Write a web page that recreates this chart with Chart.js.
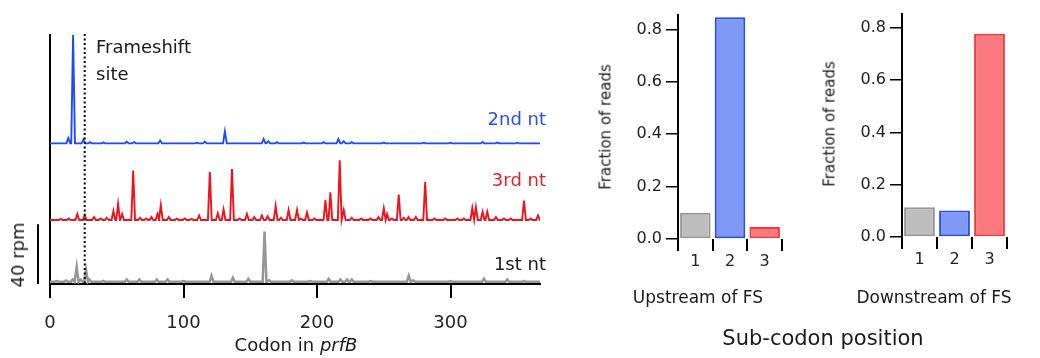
<!DOCTYPE html>
<html>
<head>
<meta charset="utf-8">
<script src="https://cdn.jsdelivr.net/npm/chart.js@4/dist/chart.umd.min.js"></script>
<style>
  html, body { margin:0; padding:0; background:#fff; }
  body { width:1040px; height:358px; position:relative; overflow:hidden; font-family:"DejaVu Sans", sans-serif; color:#1a1a1a; }
  canvas { position:absolute; top:0; }
  .t { position:absolute; white-space:nowrap; line-height:1; }
  .c { transform:translateX(-50%); }
  .rot { transform:translate(-50%,-50%) rotate(-90deg); }
</style>
</head>
<body>
<canvas id="trace" width="560" height="358" style="left:0"></canvas>
<canvas id="up" width="240" height="358" style="left:560px"></canvas>
<canvas id="down" width="240" height="358" style="left:800px"></canvas>

<div class="t" style="left:96px; top:37.8px; font-size:18px;">Frameshift</div>
<div class="t" style="left:96px; top:64.8px; font-size:18px;">site</div>
<div class="t" style="right:494px; top:109.8px; font-size:18px; color:rgb(40,80,230);">2nd nt</div>
<div class="t" style="right:494px; top:170.8px; font-size:18px; color:rgb(232,30,40);">3rd nt</div>
<div class="t" style="right:494px; top:254.8px; font-size:18px;">1st nt</div>
<div class="t rot" style="left:18px; top:255px; font-size:18px;">40 rpm</div>
<div class="t c" style="left:296px; top:335.8px; font-size:18px;">Codon in <i>prfB</i></div>

<div class="t rot" style="left:606px; top:127px; font-size:15px;">Fraction of reads</div>
<div class="t rot" style="left:830px; top:124px; font-size:15px;">Fraction of reads</div>
<div class="t c" style="left:698px; top:288.6px; font-size:17px;">Upstream of FS</div>
<div class="t c" style="left:934px; top:288.6px; font-size:17px;">Downstream of FS</div>
<div class="t c" style="left:823px; top:328.2px; font-size:21px;">Sub-codon position</div>

<script>
// ---------- data ----------
const codonTicks = [0, 100, 200, 300];
const frameshiftCodon = 26;
const scaleBarRpm = 40;

// 2nd nt (blue) – peak positions (codon) and heights (rpm)
const blueCodons = [13.7, 17.3, 25, 30, 40, 57.5, 63, 82.5, 110, 116, 131, 160, 163.5, 170, 190, 205, 216, 220, 226, 250, 280, 300, 324, 335, 350];
const blueRpm    = [3.5, 73, 2.5, 0.8, 0.6, 1.2, 1, 2, 0.5, 1.2, 8, 3, 1.5, 0.8, 0.6, 0.8, 3, 1.5, 0.8, 0.6, 0.5, 0.5, 1, 0.6, 0.5];

// 3rd nt (red)
const redCodons = [8, 14, 20.5, 26, 33, 38, 42.5, 47.5, 51, 54, 62.3, 67.5, 72, 76, 80.5, 83, 89, 95, 101, 106, 111.7, 119.7, 125.7, 130, 136.3, 142, 147.5, 153, 158.7, 163, 169, 173, 178.7, 185, 188, 192.5, 198, 206.3, 210, 217, 220, 226, 233, 240, 246, 250, 252.5, 256, 261.2, 265, 268.5, 274, 281, 288, 296, 305, 310, 316.3, 319, 324, 327.5, 334, 340, 345, 355, 360, 365.5];
const redRpm    = [0.8, 1, 4, 3.3, 2, 1, 1.5, 6, 10.7, 4, 33, 1.5, 1, 2, 4, 10, 2, 1, 1, 0.8, 3, 32, 4.5, 7, 34, 1, 4, 2, 3, 2.5, 9.3, 1.5, 6.7, 6.7, 1, 5, 1, 13.3, 18.5, 40, 6.7, 1.5, 1, 1, 2, 7.8, 4, 1, 17, 1.5, 2, 2, 25.5, 1, 1, 1, 1, 8, 8.5, 5.5, 5.5, 2, 1, 1, 13, 1, 3];

// 1st nt (gray)
const grayCodons = [5, 12, 17, 20, 23, 27, 29.5, 40, 57.5, 67, 80, 88, 100, 121, 137, 148.5, 160.7, 164, 181, 195, 208.7, 217.5, 222.5, 226, 240, 268.7, 272, 300, 325, 342.5, 355];
const grayRpm    = [0.5, 0.8, 1.5, 10, 1.5, 8, 1.5, 0.6, 1.5, 1.5, 1.5, 1.5, 0.5, 4, 2.7, 2, 33.5, 1, 1, 0.5, 2, 1.5, 1.5, 1.5, 0.5, 4, 1, 0.5, 2, 1.5, 0.5];

// Bar panels
const subCodon = ['1', '2', '3'];
const upstreamFraction   = [0.10, 0.846, 0.046];
const downstreamFraction = [0.114, 0.101, 0.778];
const fractionTicks = [0, 0.2, 0.4, 0.6, 0.8];

// ---------- styling / layout ----------
const FONT = '"DejaVu Sans", sans-serif';
const CODON_MAX = 367;
const PEAK_HALF = 1.4;          // half base width of a peak, codons
const OFFSET = { gray: 0, red: 41.3, blue: 92.5 };  // vertical stacking of traces (rpm)

function tracePoints(codons, rpm, offset) {
  const pts = [{ x: 0, y: offset }];
  codons.forEach((c, i) => {
    pts.push({ x: c - PEAK_HALF, y: offset });
    pts.push({ x: c, y: offset + rpm[i] });
    pts.push({ x: c + PEAK_HALF, y: offset });
  });
  pts.push({ x: CODON_MAX, y: offset });
  return pts;
}

const traceDecor = {
  id: 'traceDecor',
  afterDatasetsDraw(chart) {
    const { ctx, scales: { x, y }, chartArea } = chart;
    ctx.save();
    // dotted frameshift line
    const fx = x.getPixelForValue(frameshiftCodon);
    ctx.strokeStyle = '#000';
    ctx.lineWidth = 2;
    ctx.setLineDash([2, 2.5]);
    ctx.beginPath();
    ctx.moveTo(fx, chartArea.top - 1);
    ctx.lineTo(fx, chartArea.bottom);
    ctx.stroke();
    ctx.setLineDash([]);
    // 40 rpm scale bar
    const y0 = y.getPixelForValue(y.min);
    const y1 = y.getPixelForValue(y.min + scaleBarRpm);
    ctx.lineWidth = 2;
    ctx.beginPath();
    ctx.moveTo(38, y0);
    ctx.lineTo(38, y1);
    ctx.stroke();
    ctx.restore();
  }
};

new Chart(document.getElementById('trace'), {
  type: 'line',
  data: {
    datasets: [
      { data: tracePoints(grayCodons, grayRpm, OFFSET.gray), borderColor: 'rgb(150,150,150)', borderWidth: 2.5 },
      { data: tracePoints(redCodons, redRpm, OFFSET.red), borderColor: 'rgb(238,20,30)', borderWidth: 1.9 },
      { data: tracePoints(blueCodons, blueRpm, OFFSET.blue), borderColor: 'rgb(30,75,250)', borderWidth: 1.9 }
    ]
  },
  options: {
    responsive: false, animation: false, events: [],
    parsing: false, normalized: true,
    elements: { point: { radius: 0 }, line: { tension: 0 } },
    plugins: { legend: { display: false }, tooltip: { enabled: false } },
    layout: { padding: { left: 50, top: 35, right: 20, bottom: 0 } },
    scales: {
      x: {
        type: 'linear', min: 0, max: CODON_MAX,
        afterBuildTicks: s => { s.ticks = codonTicks.map(v => ({ value: v })); },
        afterFit: s => { s.height = 74; },
        grid: { display: true, drawOnChartArea: false, drawTicks: true, tickLength: 14, color: '#000', lineWidth: 2 },
        border: { display: true, color: '#000', width: 2 },
        ticks: { font: { family: FONT, size: 18 }, color: '#222', padding: 15, maxRotation: 0 }
      },
      y: {
        type: 'linear', min: -1.5, max: 165,
        afterFit: s => { s.width = 0; },
        ticks: { display: false },
        grid: { display: false },
        border: { display: true, color: '#000', width: 2 }
      }
    }
  },
  plugins: [traceDecor]
});

function barChart(id, values, leftPad, rightPad, topPad, bottomY) {
  return new Chart(document.getElementById(id), {
    type: 'bar',
    data: {
      labels: subCodon,
      datasets: [{
        data: values,
        backgroundColor: ['rgb(190,190,190)', 'rgb(128,152,246)', 'rgb(250,122,127)'],
        borderColor: ['rgb(150,150,150)', 'rgb(40,75,235)', 'rgb(245,55,65)'],
        borderWidth: 2,
        borderSkipped: false,
        barPercentage: 0.88,
        categoryPercentage: 1
      }]
    },
    options: {
      responsive: false, animation: false, events: [],
      plugins: { legend: { display: false }, tooltip: { enabled: false } },
      layout: { padding: { left: 0, top: topPad, right: rightPad, bottom: 0 } },
      scales: {
        x: {
          type: 'category', offset: true,
          afterFit: s => { s.height = 358 - bottomY; },
          grid: { offset: true, display: true, drawOnChartArea: false, drawTicks: true, tickLength: 12, color: '#000', lineWidth: 2 },
          border: { display: false },
          ticks: { font: { family: FONT, size: 16 }, color: '#222', padding: 1 }
        },
        y: {
          type: 'linear', min: 0, max: 0.855,
          afterBuildTicks: s => { s.ticks = fractionTicks.map(v => ({ value: v })); },
          afterFit: s => { s.width = leftPad; },
          grid: { display: true, drawOnChartArea: false, drawTicks: true, tickLength: 12, color: '#000', lineWidth: 1.5 },
          border: { display: true, color: '#000', width: 2 },
          ticks: { font: { family: FONT, size: 16 }, color: '#222', padding: 4, callback: v => v.toFixed(1) }
        }
      }
    }
  });
}

barChart('up', upstreamFraction, 118, 18, 15, 239);
barChart('down', downstreamFraction, 102, 33, 12, 237);
</script>
</body>
</html>
